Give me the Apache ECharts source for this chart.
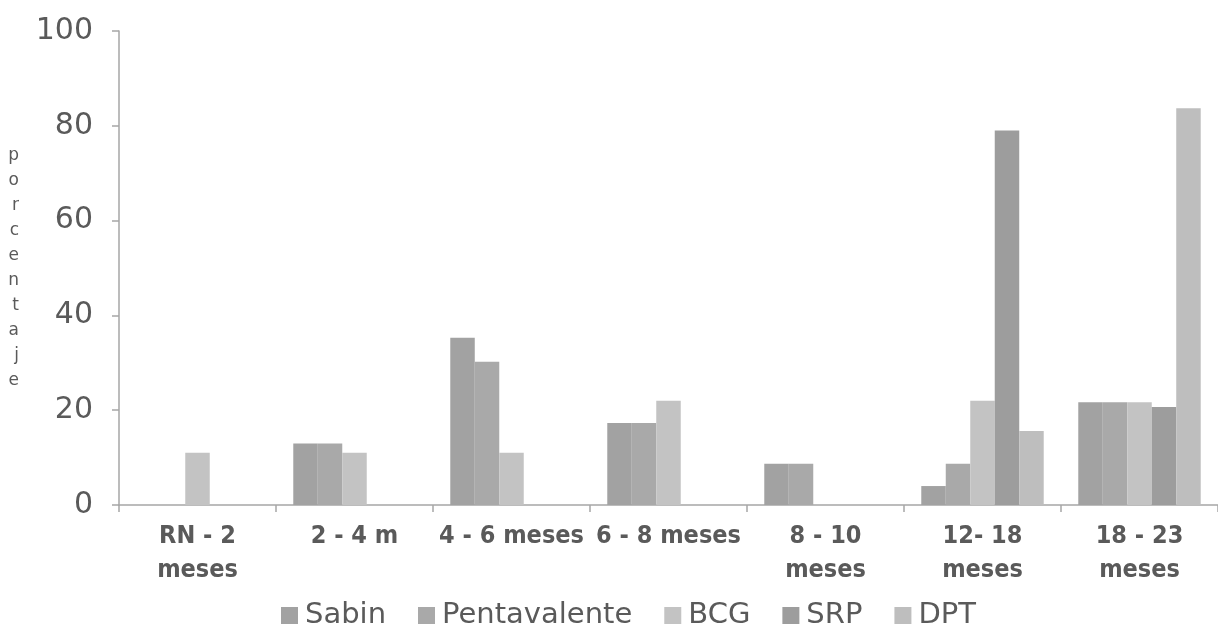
<!DOCTYPE html>
<html>
<head>
<meta charset="utf-8">
<script src="https://cdn.jsdelivr.net/npm/echarts@6/dist/echarts.min.js"></script>
<style>
  html, body { margin: 0; padding: 0; background: #ffffff; }
  #chart { width: 1218px; height: 631px; }
</style>
</head>
<body>
<div id="chart"></div>
<script>
// Age groups (x axis)
const categories = [
  'RN - 2\nmeses', '2 - 4 m', '4 - 6 meses', '6 - 8 meses',
  '8 - 10\nmeses', '12- 18\nmeses', '18 - 23\nmeses'
];

// Vaccination percentages per vaccine
const sabin        = [0, 13, 35.3, 17.3, 8.7, 4.0, 21.7];
const pentavalente = [0, 13, 30.2, 17.3, 8.7, 8.7, 21.7];
const bcg          = [11, 11, 11, 22, 0, 22, 21.7];
const srp          = [0, 0, 0, 0, 0, 79, 20.7];
const dpt          = [0, 0, 0, 0, 0, 15.6, 83.7];

const yTicks = [0, 20, 40, 60, 80, 100];
const yAxisTitle = 'porcentaje';

const seriesDefs = [
  { name: 'Sabin',        data: sabin,        color: '#a2a2a2' },
  { name: 'Pentavalente', data: pentavalente, color: '#a9a9a9' },
  { name: 'BCG',          data: bcg,          color: '#c3c3c3' },
  { name: 'SRP',          data: srp,          color: '#9d9d9d' },
  { name: 'DPT',          data: dpt,          color: '#bebebe' }
];

const textColor = '#5a5a5a';
const axisColor = '#a6a6a6';

const chart = echarts.init(document.getElementById('chart'), null, { renderer: 'canvas' });

chart.setOption({
  backgroundColor: '#ffffff',
  animation: false,
  grid: { left: 119, right: -3, top: 31, bottom: 126 },
  legend: {
    left: 276,
    top: 596,
    itemWidth: 17,
    itemHeight: 17,
    itemGap: 32,
    icon: 'rect',
    textStyle: { fontFamily: 'DejaVu Sans', fontSize: 29, color: textColor, padding: [0, 0, 0, 2] },
    data: seriesDefs.map(s => s.name)
  },
  xAxis: {
    type: 'category',
    data: categories,
    axisLine: { lineStyle: { color: axisColor, width: 1.5 } },
    axisTick: { show: true, length: 7, lineStyle: { color: axisColor, width: 1.5 } },
    axisLabel: {
      interval: 0,
      margin: 14,
      fontFamily: 'DejaVu Sans Condensed, DejaVu Sans',
      fontWeight: 'bold',
      fontSize: 25,
      lineHeight: 34,
      color: textColor
    }
  },
  yAxis: {
    type: 'value',
    min: yTicks[0],
    max: yTicks[yTicks.length - 1],
    interval: yTicks[1] - yTicks[0],
    name: yAxisTitle.split('').join('\n'),
    nameLocation: 'middle',
    nameRotate: 0,
    nameGap: 100,
    nameTextStyle: { fontFamily: 'DejaVu Sans', fontSize: 17, lineHeight: 25, color: textColor },
    splitLine: { show: false },
    axisLine: { show: true, lineStyle: { color: axisColor, width: 1.5 } },
    axisTick: { show: true, length: 7, lineStyle: { color: axisColor, width: 1.5 } },
    axisLabel: { fontFamily: 'DejaVu Sans', fontSize: 30, color: textColor, margin: 26 }
  },
  series: seriesDefs.map(s => ({
    name: s.name,
    type: 'bar',
    data: s.data,
    barGap: '0%',
    barCategoryGap: '22%',
    itemStyle: { color: s.color }
  }))
});
</script>
</body>
</html>
